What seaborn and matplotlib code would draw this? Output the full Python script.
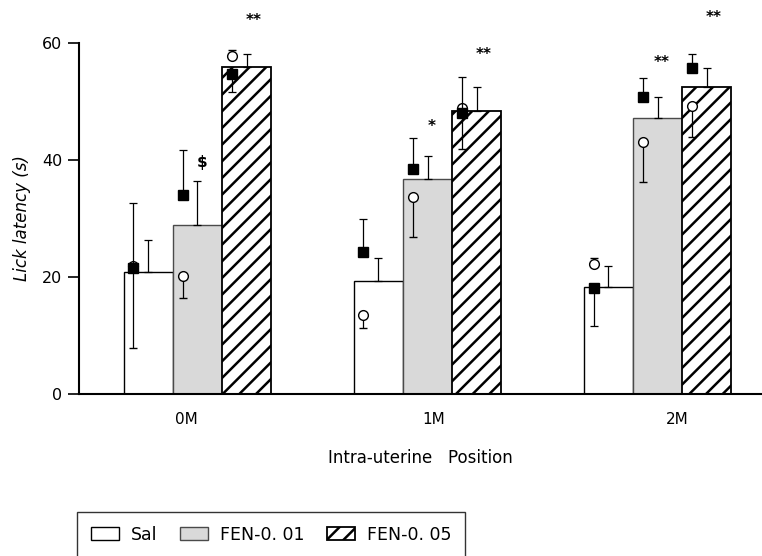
import numpy as np
import pandas as pd
import matplotlib
matplotlib.use("Agg")
import matplotlib.pyplot as plt
from matplotlib.container import BarContainer
import seaborn as sns

# ---- data -------------------------------------------------------------
positions = ["0M", "1M", "2M"]
treatments = ["Sal", "FEN-0. 01", "FEN-0. 05"]

# group means (s) and SEM
mean_sal = [20.9, 19.3, 18.3]
mean_fen01 = [28.9, 36.8, 47.2]
mean_fen05 = [55.9, 48.4, 52.5]
sem_sal = [5.4, 3.9, 3.5]
sem_fen01 = [7.5, 3.8, 3.6]
sem_fen05 = [2.2, 4.0, 3.3]

# sub-group shown as filled squares: mean, lower error, upper error
sq_sal = [21.5, 24.2, 18.1]
sq_sal_lo = [0.0, 0.0, 6.5]
sq_sal_hi = [11.1, 5.7, 0.0]
sq_fen01 = [34.1, 38.5, 50.7]
sq_fen01_lo = [0.0, 0.0, 0.0]
sq_fen01_hi = [7.6, 5.3, 3.3]
sq_fen05 = [54.7, 48.0, 55.7]
sq_fen05_lo = [3.0, 0.0, 0.0]
sq_fen05_hi = [0.0, 6.2, 2.5]

# sub-group shown as open circles: mean, lower error, upper error
ci_sal = [21.8, 13.5, 22.3]
ci_sal_lo = [14.0, 2.2, 0.0]
ci_sal_hi = [0.0, 0.0, 1.0]
ci_fen01 = [20.2, 33.6, 43.1]
ci_fen01_lo = [3.8, 6.7, 6.8]
ci_fen01_hi = [0.0, 0.0, 0.0]
ci_fen05 = [57.8, 48.9, 49.2]
ci_fen05_lo = [0.0, 7.0, 5.2]
ci_fen05_hi = [1.0, 0.0, 0.0]

# significance marks above the drug bars
sig_fen01 = ["\\$", "*", "**"]
sig_fen01_y = [39.5, 45.8, 56.6]
sig_fen05 = ["**", "**", "**"]
sig_fen05_y = [63.9, 58.0, 64.3]

# ---- long table for seaborn -------------------------------------------
means = [mean_sal, mean_fen01, mean_fen05]
sems = [sem_sal, sem_fen01, sem_fen05]
squares = [(sq_sal, sq_sal_lo, sq_sal_hi),
           (sq_fen01, sq_fen01_lo, sq_fen01_hi),
           (sq_fen05, sq_fen05_lo, sq_fen05_hi)]
circles = [(ci_sal, ci_sal_lo, ci_sal_hi),
           (ci_fen01, ci_fen01_lo, ci_fen01_hi),
           (ci_fen05, ci_fen05_lo, ci_fen05_hi)]

df = pd.DataFrame({
    "position": positions * len(treatments),
    "treatment": np.repeat(treatments, len(positions)),
    "latency": np.concatenate(means),
})

# ---- figure -------------------------------------------------------------
sns.set_style("ticks")
plt.rcParams.update({
    "font.family": ["DejaVu Sans"],
    "hatch.linewidth": 1.8,
    "text.color": "black",
    "axes.labelcolor": "black",
    "axes.edgecolor": "black",
    "xtick.color": "black",
    "ytick.color": "black",
})

fig = plt.figure(figsize=(7.62, 5.56), dpi=100)
ax = fig.add_axes([79 / 762, 162 / 556, 683 / 762, 351 / 556])

sns.barplot(data=df, x="position", y="latency", hue="treatment",
            order=positions, hue_order=treatments, errorbar=None,
            width=0.64, ax=ax, legend=False, zorder=2)

bar_conts = [c for c in ax.containers if isinstance(c, BarContainer)]

styles = [
    dict(facecolor="white", edgecolor="black", hatch=None, linewidth=1.0),
    dict(facecolor="#d9d9d9", edgecolor="#4a4a4a", hatch=None, linewidth=1.0),
    dict(facecolor="white", edgecolor="black", hatch="//", linewidth=1.3),
]

bar_centers = []
for cont, st in zip(bar_conts, styles):
    centers = []
    for p in cont.patches:
        p.set_facecolor(st["facecolor"])
        p.set_edgecolor(st["edgecolor"])
        p.set_linewidth(st["linewidth"])
        if st["hatch"]:
            p.set_hatch(st["hatch"])
        centers.append(p.get_x() + p.get_width() / 2)
    bar_centers.append(np.array(centers))

for centers, m, s, sq, ci in zip(bar_centers, means, sems, squares, circles):
    # SEM of the whole group (upper only)
    ax.errorbar(centers, m, yerr=[np.zeros(len(m)), s], fmt="none",
                ecolor="black", elinewidth=0.9, capsize=3, capthick=0.9,
                zorder=3, clip_on=False)

    # sub-groups, drawn slightly left of each bar centre
    xs = centers - 0.065
    ax.errorbar(xs, ci[0], yerr=[ci[1], ci[2]], fmt="o", ms=7,
                mfc="white", mec="black", mew=1.0, ecolor="black",
                elinewidth=0.9, capsize=3, capthick=0.9, zorder=4,
                clip_on=False)
    ax.errorbar(xs, sq[0], yerr=[sq[1], sq[2]], fmt="s", ms=7.5,
                mfc="black", mec="black", ecolor="black",
                elinewidth=0.9, capsize=3, capthick=0.9, zorder=5,
                clip_on=False)

# significance marks
for xc, lab, yv in zip(bar_centers[1], sig_fen01, sig_fen01_y):
    ax.text(xc + 0.02, yv, lab, ha="center", va="center", fontsize=11,
            fontweight="bold")
for xc, lab, yv in zip(bar_centers[2], sig_fen05, sig_fen05_y):
    ax.text(xc + 0.03, yv, lab, ha="center", va="center", fontsize=11,
            fontweight="bold")

# ---- axes styling -------------------------------------------------------
ax.set_ylim(0, 60)
ax.set_xlim(-0.515, 2.454)
ax.set_yticks([0, 20, 40, 60])
ax.set_xticks([-0.05, 1.028, 2.085])
ax.set_xticklabels(positions)
ax.tick_params(axis="y", length=8, width=1.2, pad=4, labelsize=11.5)
ax.tick_params(axis="x", length=0, pad=13, labelsize=11)
for side in ("top", "right"):
    ax.spines[side].set_visible(False)
ax.spines["left"].set_linewidth(1.5)
ax.spines["bottom"].set_linewidth(1.5)

ax.set_ylabel("Lick latency (s)", fontsize=12, fontstyle="italic", labelpad=8)
ax.set_xlabel("Intra-uterine   Position", fontsize=12, labelpad=16)

handles = [cont.patches[0] for cont in bar_conts]
leg = fig.legend(handles, treatments, loc="upper left",
                 bbox_to_anchor=(77 / 762, 44 / 556),
                 bbox_transform=fig.transFigure, ncol=3, fontsize=12.5,
                 frameon=True, fancybox=False, edgecolor="black",
                 handlelength=1.6, handleheight=0.75, handletextpad=0.7,
                 columnspacing=1.3, borderpad=0.8, borderaxespad=0)
leg.get_frame().set_linewidth(1.0)

fig.savefig("out.png", dpi=100)
